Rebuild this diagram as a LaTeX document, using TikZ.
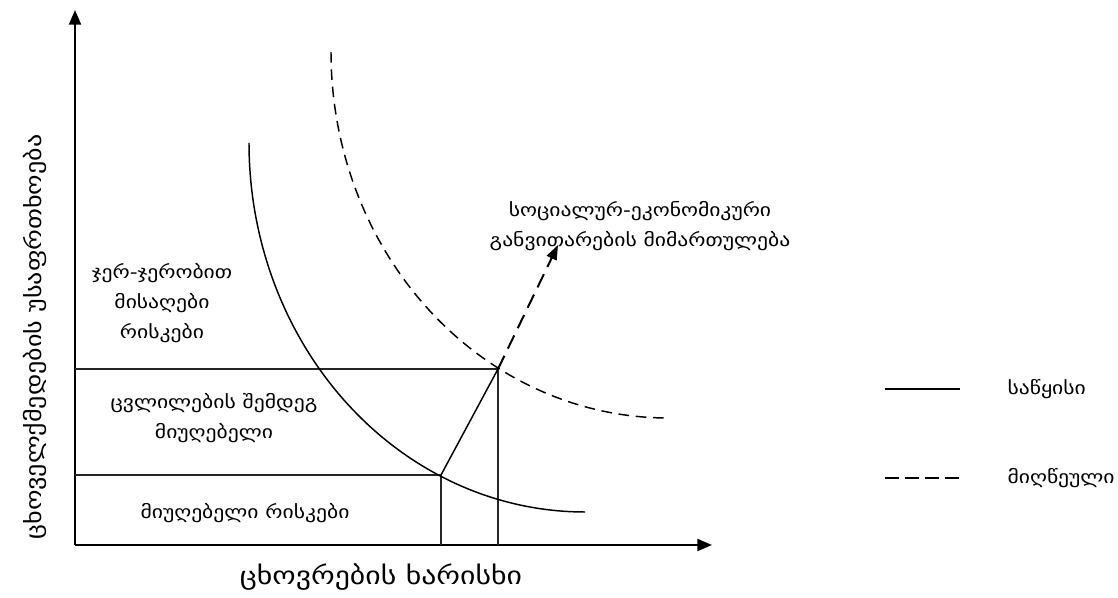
\documentclass[tikz,border=0pt]{standalone}
\usepackage{fontspec}
\setmainfont[FakeStretch=1.2]{DejaVu Sans}
\usetikzlibrary{arrows.meta}
\begin{document}
\begin{tikzpicture}[x=0.75pt,y=-0.75pt,
  axisline/.style={line width=1.6pt,-{Triangle[length=11pt,width=9pt]}},
  curvesolid/.style={line width=1.1pt},
  curvedash/.style={line width=1.1pt,dash pattern=on 8pt off 5pt},
  guide/.style={line width=0.8pt,black!85},
  dirarrow/.style={line width=1.5pt,dash pattern=on 11pt off 6pt,-{Triangle[length=11pt,width=8pt]}},
  lbl/.style={font=\fontsize{13.5}{22.5}\selectfont,align=center,inner sep=1pt},
  legline/.style={line width=1.1pt}]
\useasboundingbox (0,0) rectangle (1118,598);
% axes
\coordinate (O) at (75,545);
\coordinate (Ytop) at (75,10);
\coordinate (Xend) at (712,545);
\draw[axisline] (O) -- (Ytop);
\draw[axisline] (O) -- (Xend);
% key points
\coordinate (P1) at (441,475);
\coordinate (P2) at (498,369);
\coordinate (P3) at (558,245);
\coordinate (L1) at (75,475);
\coordinate (L2) at (75,369);
\coordinate (B1) at (441,545);
\coordinate (B2) at (498,545);
% guide lines
\draw[guide] (L2) -- (P2) -- (B2);
\draw[guide] (L1) -- (P1) -- (B1);
% curves
\draw[curvesolid] plot[domain=180:90,samples=90,smooth] ({585+336*cos(\x)},{143+369*sin(\x)});
\draw[curvedash] plot[domain=180:90,samples=90,smooth] ({668+337*cos(\x)},{52+366*sin(\x)});
% direction
\draw[curvesolid] (P1) -- (P2);
\draw[dirarrow] (P2) -- (P3);
% labels
\node[lbl] (dir) at (640,226) {სოციალურ-ეკონომიკური\\განვითარების მიმართულება};
\node[lbl] (acc) at (162,303) {ჯერ-ჯერობით\\მისაღები\\რისკები};
\node[lbl] (chg) at (214,418) {ცვლილების შემდეგ\\მიუღებელი};
\node[lbl] (una) at (245,513) {მიუღებელი რისკები};
\node[font=\fontsize{16.3}{20}\selectfont,inner sep=1pt,rotate=90] (ylab) at (35,337) {ცხოველქმედების უსაფრთხოება};
\node[font=\fontsize{18.6}{22}\selectfont,inner sep=1pt] (xlab) at (381,577) {ცხოვრების ხარისხი};
% legend
\coordinate (LS1) at (885,389);
\coordinate (LS2) at (960,389);
\coordinate (LD1) at (885,478);
\coordinate (LD2) at (960,478);
\draw[legline] (LS1) -- (LS2);
\draw[legline,dash pattern=on 10.5pt off 4.5pt] (LD1) -- (LD2);
\node[lbl,anchor=west] (leg1) at (1006,389) {საწყისი};
\node[lbl,anchor=west] (leg2) at (1006,478) {მიღწეული};
\end{tikzpicture}
\end{document}
